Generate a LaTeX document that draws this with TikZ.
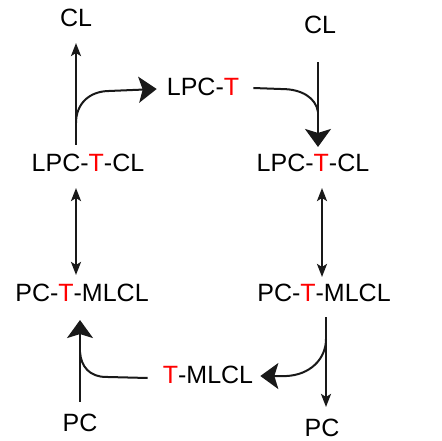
\documentclass[tikz,border=0pt]{standalone}
\usepackage{fontspec}
\setmainfont{Liberation Sans}
\usetikzlibrary{arrows.meta,calc}
\newcommand\redT{\textcolor{red}{T}}
\begin{document}
\begin{tikzpicture}[x=1pt,y=-1pt,
  lbl/.style={font=\fontsize{25}{28}\selectfont, inner sep=0pt, text=black},
  ln/.style={line width=2pt, draw=black!90},
  sm/.style={-{Stealth[length=13pt,width=10pt,inset=3pt]}},
  smb/.style={{Stealth[length=13pt,width=10pt,inset=3pt]}-{Stealth[length=13pt,width=10pt,inset=3pt]}},
  bg/.style={-{Stealth[length=18pt,width=26pt,inset=4pt]}}]
\useasboundingbox (0,0) rectangle (442,441);
% nodes
\node[lbl] (cl1) at (76,18) {CL};
\node[lbl] (cl2) at (320,25) {CL};
\node[lbl] (lpct) at (203,87) {LPC-\redT};
\node[lbl] (lpctcl1) at (88,163) {LPC-\redT-CL};
\node[lbl] (lpctcl2) at (313,163) {LPC-\redT-CL};
\node[lbl] (pctmlcl1) at (82,293) {PC-\redT-MLCL};
\node[lbl] (pctmlcl2) at (324,293) {PC-\redT-MLCL};
\node[lbl] (tmlcl) at (208,375) {\redT-MLCL};
\node[lbl] (pc1) at (80,423) {PC};
\node[lbl] (pc2) at (322,428) {PC};
% top left
\draw[ln,sm] ($(lpctcl1.north -| cl1)+(0,-9)$) -- ($(cl1.south)+(0,16)$);
\coordinate (b1) at ($(lpctcl1.north -| cl1)+(0,-31)$);
\draw[ln,bg] (b1) .. controls ($(b1)+(0,-18)$) and ($(b1)+(12,-32)$) .. ($(b1)+(34,-32)$) -- ($(lpct.west)+(-10,2)$);
% top right
\draw[ln,bg] ($(cl2.south)+(-2,28)$) -- ($(lpctcl2.north)+(5,-7)$);
\coordinate (b2) at ($(cl2.south)+(-2,78)$);
\draw[ln] ($(lpct.east)+(14,1)$) -- ($(b2)+(-36,-23)$) .. controls ($(b2)+(-16,-23)$) and ($(b2)+(-2,-14)$) .. (b2);
% double arrows
\draw[ln,smb] ($(lpctcl1.south -| cl1)+(0,16)$) -- ($(pctmlcl1.north -| cl1)+(0,-9)$);
\draw[ln,smb] ($(lpctcl2.south)+(9,16)$) -- ($(pctmlcl2.north)+(-2,-7)$);
% bottom right
\draw[ln,sm] ($(pctmlcl2.south)+(2,15)$) -- ($(pc2.north)+(4,-12)$);
\coordinate (b3) at ($(pctmlcl2.south)+(2,37)$);
\draw[ln,bg] (b3) .. controls ($(b3)+(0,20)$) and ($(b3)+(-16,36)$) .. ($(b3)+(-40,37)$) -- ($(tmlcl.east)+(7,1)$);
% bottom left
\draw[ln,bg] ($(pc1.north)+(0,-12)$) -- ($(pctmlcl1.south)+(-2,18)$);
\coordinate (b4) at ($(pc1.north)+(0,-62)$);
\draw[ln] ($(tmlcl.west)+(-15,3)$) -- ($(b4)+(26,25)$) .. controls ($(b4)+(10,25)$) and ($(b4)+(1,15)$) .. (b4);
\end{tikzpicture}
\end{document}
